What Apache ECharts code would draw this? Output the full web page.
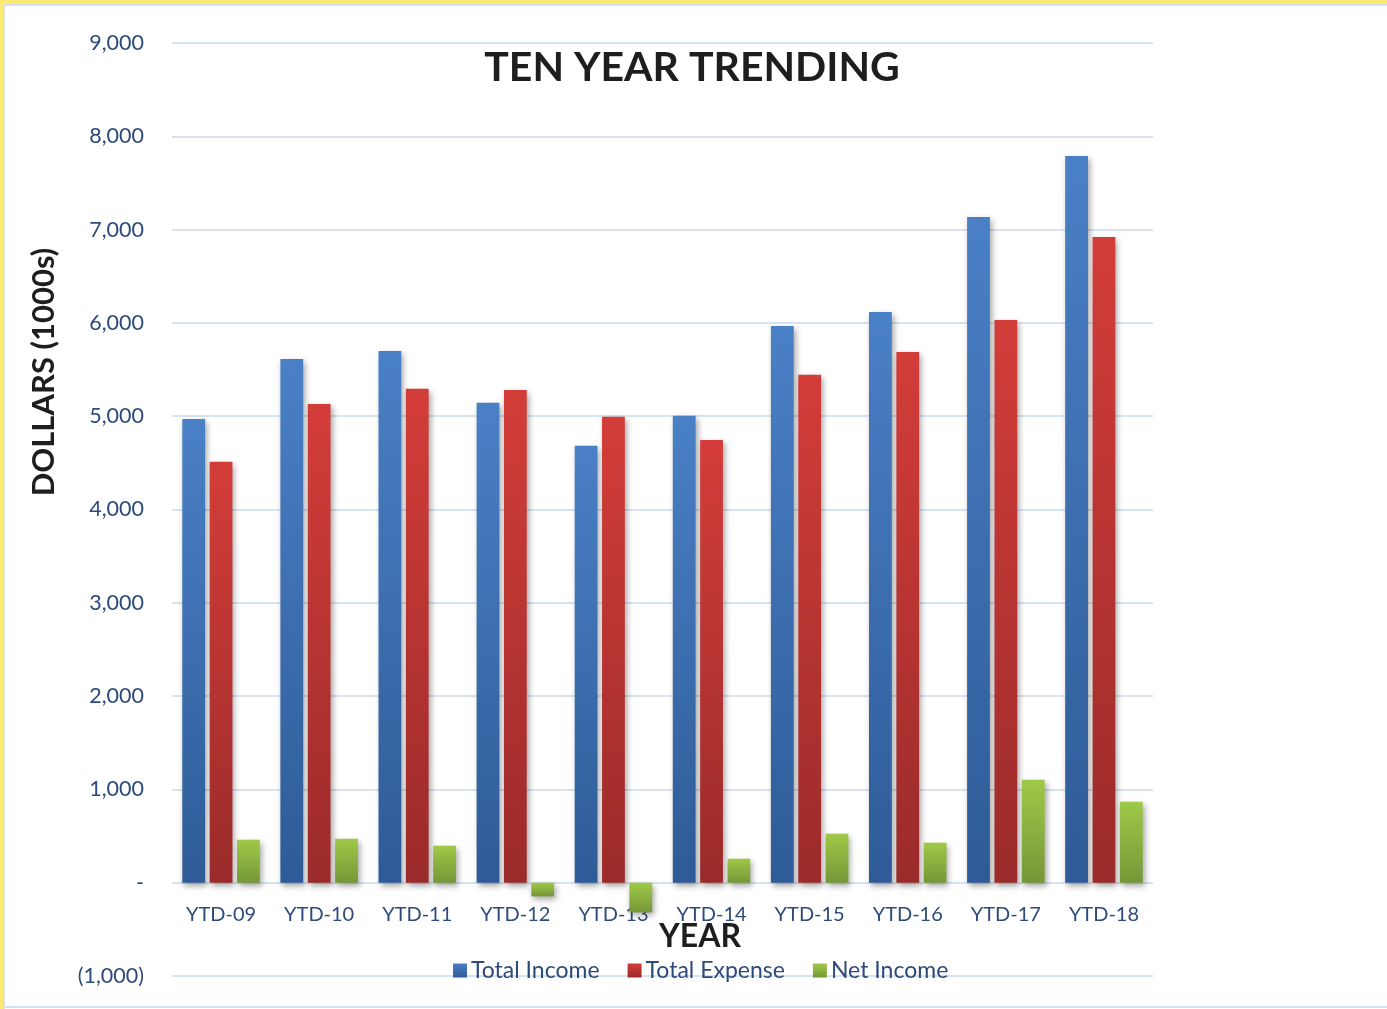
<!DOCTYPE html>
<html>
<head>
<meta charset="utf-8">
<script src="https://cdn.jsdelivr.net/npm/echarts@6/dist/echarts.min.js"></script>
<style>
html,body{margin:0;padding:0;background:#fff;}
#wrap{position:relative;width:1387px;height:1009px;overflow:hidden;}
#chart{position:absolute;left:0;top:0;width:1387px;height:1009px;}
.b{position:absolute;pointer-events:none;}
</style>
</head>
<body>
<div id="wrap">
<div id="chart"></div>
<div class="b" style="left:0;top:0;width:1387px;height:4px;background:#fbe972"></div>
<div class="b" style="left:3px;top:4px;width:1384px;height:2px;background:#d5e2f1"></div>
<div class="b" style="left:0;top:0;width:3px;height:1009px;background:#fbe972"></div>
<div class="b" style="left:3px;top:4px;width:2px;height:1005px;background:#d5e2f1"></div>
<div class="b" style="left:3px;top:1006px;width:1384px;height:2px;background:#d5e2f1"></div>
</div>
<script>
const categories = ['YTD-09','YTD-10','YTD-11','YTD-12','YTD-13','YTD-14','YTD-15','YTD-16','YTD-17','YTD-18'];
const totalIncome = [4970, 5614, 5700, 5143, 4682, 5004, 5968, 6118, 7136, 7789];
const totalExpense = [4511, 5132, 5293, 5282, 4993, 4746, 5443, 5689, 6032, 6921];
const netIncome = [461, 471, 396, -147, -318, 257, 525, 429, 1104, 868];
const seriesNames = ['Total Income', 'Total Expense', 'Net Income'];

const FONT = 'Lato, "Open Sans", sans-serif';
const labelColor = '#2d4a7c';
function grad(top, bottom){
  return new echarts.graphic.LinearGradient(0,0,0,1,[{offset:0,color:top},{offset:1,color:bottom}]);
}
const shadow = {shadowBlur:6, shadowColor:'rgba(0,0,0,0.35)', shadowOffsetX:2, shadowOffsetY:3};

const chart = echarts.init(document.getElementById('chart'), null, {renderer:'canvas'});
chart.setOption({
  animation:false,
  backgroundColor:'transparent',
  title:{
    text:'TEN YEAR TRENDING', left:687, top:42, textAlign:'center',
    textStyle:{fontFamily:FONT, fontWeight:'bold', fontSize:41, color:'#1e1e1e'}
  },
  graphic:[
    {type:'text', x:44, y:372, rotation:Math.PI/2,
      style:{text:'DOLLARS (1000s)', fontFamily:FONT, fontWeight:'bold', fontSize:31, fill:'#1e1e1e',
        align:'center', verticalAlign:'middle'}},
    {type:'text', x:700, y:937,
      style:{text:'YEAR', fontFamily:FONT, fontWeight:'bold', fontSize:32, fill:'#1e1e1e',
        align:'center', verticalAlign:'middle'}}
  ],
  legend:{
    data:seriesNames, left:448, top:954, itemWidth:14, itemHeight:14, itemGap:28,
    icon:'rect', textStyle:{fontFamily:FONT, fontSize:23, color:labelColor, padding:[0,0,0,-1]}
  },
  grid:{left:172, right:234, top:43, bottom:33, outerBoundsMode:'none', containLabel:false},
  xAxis:{
    type:'category', data:categories, offset:-93,
    axisLine:{show:false, onZero:false}, axisTick:{show:false},
    axisLabel:{fontFamily:FONT, fontSize:20, color:labelColor, margin:22}
  },
  yAxis:{
    type:'value', min:-1000, max:9000, interval:1000,
    axisLine:{show:false}, axisTick:{show:false},
    splitLine:{lineStyle:{color:'#d6e3f1', width:2}},
    axisLabel:{fontFamily:FONT, fontSize:21.5, color:labelColor, margin:28,
      formatter:function(v){
        if(v===0) return '-';
        const s = Math.abs(v).toLocaleString('en-US');
        return v<0 ? '('+s+')' : s;
      }}
  },
  series:[
    {name:seriesNames[0], type:'bar', data:totalIncome, barGap:'20%', barCategoryGap:'21%',
      itemStyle:Object.assign({color:grad('#4a80c6','#2e5b97')}, shadow)},
    {name:seriesNames[1], type:'bar', data:totalExpense, barGap:'20%', barCategoryGap:'21%',
      itemStyle:Object.assign({color:grad('#d33d39','#9a2b2a')}, shadow)},
    {name:seriesNames[2], type:'bar', data:netIncome, barGap:'20%', barCategoryGap:'21%',
      itemStyle:Object.assign({color:grad('#9fc948','#759737')}, shadow)}
  ]
});
</script>
</body>
</html>
